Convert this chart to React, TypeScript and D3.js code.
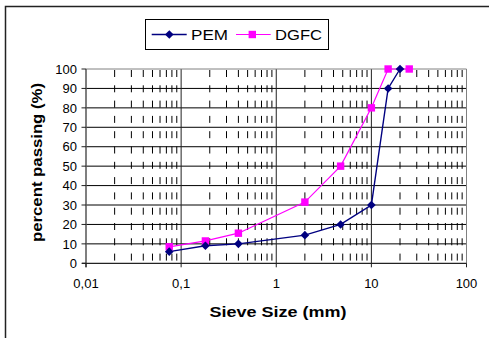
import React from "react";
import * as d3 from "d3";

// Sieve sizes (mm) and percent passing for each gradation
const pemSizes = [0.075, 0.18, 0.4, 2, 4.75, 10, 15, 20];
const pemPassing = [6, 9, 10, 14.5, 20, 30, 90, 100];
const dgfcSizes = [0.075, 0.18, 0.4, 2, 4.75, 10, 15, 25];
const dgfcPassing = [8.5, 11.5, 15.5, 31.5, 50, 80, 100, 100];

const seriesNames = ["PEM", "DGFC"];
const seriesColors = ["#000080", "#FF00FF"];

const xTickValues = [0.01, 0.1, 1, 10, 100];
const xTickLabels = ["0,01", "0,1", "1", "10", "100"];
const yTickValues = [0, 10, 20, 30, 40, 50, 60, 70, 80, 90, 100];

const W = 489;
const H = 338;
const left = 86;
const right = 466.5;
const top = 69;
const bottom = 263.3;

export default function App() {
  const x = d3.scaleLog().domain([0.01, 100]).range([left, right]);
  const y = d3.scaleLinear().domain([0, 100]).range([bottom, top]);

  // minor positions 2..9 within each decade
  const minors: number[] = [];
  for (let d = 0.01; d < 100; d *= 10) {
    for (let k = 2; k <= 9; k++) minors.push(+(d * k).toPrecision(6));
  }

  const pem = pemSizes.map((s, i) => [s, pemPassing[i]] as [number, number]);
  const dgfc = dgfcSizes.map((s, i) => [s, dgfcPassing[i]] as [number, number]);
  const line = d3
    .line<[number, number]>()
    .x((d) => x(d[0]))
    .y((d) => y(d[1]));

  const font = "Arial, 'Liberation Sans', sans-serif";

  const diamond = (cx: number, cy: number, r: number) =>
    `M${cx},${cy - r}L${cx + r},${cy}L${cx},${cy + r}L${cx - r},${cy}Z`;

  return (
    <svg
      width={W}
      height={H}
      style={{ position: "absolute", left: 0, top: 0, background: "#fff" }}
      fontFamily={font}
    >
      <rect x={0} y={0} width={W} height={H} fill="#fff" />
      {/* chart frame */}
      <rect x={5.5} y={6.5} width={520} height={400} fill="none" stroke="#222" strokeWidth={1.5} />

      {/* minor vertical dashed gridlines */}
      {minors.map((m, i) => (
        <line
          key={"mn" + i}
          x1={x(m)}
          x2={x(m)}
          y1={top + 1}
          y2={bottom}
          stroke="#000"
          strokeWidth={1}
          strokeDasharray="7 8.3"
        />
      ))}

      {/* major horizontal gridlines */}
      {yTickValues.slice(1, -1).map((v) => (
        <line key={"hy" + v} x1={left} x2={right} y1={y(v)} y2={y(v)} stroke="#000" strokeWidth={1} />
      ))}
      {/* major vertical gridlines */}
      {xTickValues.slice(1, -1).map((v) => (
        <line key={"vx" + v} x1={x(v)} x2={x(v)} y1={top} y2={bottom} stroke="#222" strokeWidth={1} />
      ))}

      {/* plot border */}
      <line x1={left} x2={right} y1={top} y2={top} stroke="#808080" strokeWidth={1} />
      <line x1={right} x2={right} y1={top} y2={bottom} stroke="#808080" strokeWidth={1} />

      {/* axes */}
      <line x1={left} x2={left} y1={top} y2={bottom + 4} stroke="#555" strokeWidth={1.5} />
      <line x1={left - 4} x2={right} y1={bottom} y2={bottom} stroke="#222" strokeWidth={1.2} />
      {yTickValues.map((v) => (
        <line key={"ty" + v} x1={left - 4.5} x2={left} y1={y(v)} y2={y(v)} stroke="#222" strokeWidth={1} />
      ))}
      {xTickValues.map((v) => (
        <line key={"tx" + v} x1={x(v)} x2={x(v)} y1={bottom} y2={bottom + 4} stroke="#222" strokeWidth={1} />
      ))}

      {/* tick labels */}
      {yTickValues.map((v) => (
        <text key={"ly" + v} x={77} y={y(v)} dy="0.36em" textAnchor="end" fontSize={13} fill="#000">
          {v}
        </text>
      ))}
      {xTickValues.map((v, i) => (
        <text key={"lx" + v} x={x(v)} y={288} textAnchor="middle" fontSize={13} fill="#000">
          {xTickLabels[i]}
        </text>
      ))}

      {/* axis titles */}
      <text
        x={278}
        y={316.5}
        textAnchor="middle"
        fontSize={14}
        fontWeight="bold"
        textLength={137}
        lengthAdjust="spacingAndGlyphs"
      >
        Sieve Size (mm)
      </text>
      <text
        transform={`translate(41.5,162.5) rotate(-90)`}
        textAnchor="middle"
        fontSize={14}
        fontWeight="bold"
        textLength={159}
        lengthAdjust="spacingAndGlyphs"
      >
        percent passing (%)
      </text>

      {/* series */}
      <path d={line(dgfc) || ""} fill="none" stroke={seriesColors[1]} strokeWidth={1.2} />
      <path d={line(pem) || ""} fill="none" stroke={seriesColors[0]} strokeWidth={1.4} />
      {dgfc.map((d, i) => (
        <rect key={"sq" + i} x={x(d[0]) - 3.7} y={y(d[1]) - 3.7} width={7.4} height={7.4} fill={seriesColors[1]} />
      ))}
      {pem.map((d, i) => (
        <path key={"dm" + i} d={diamond(x(d[0]), y(d[1]), 4.3)} fill={seriesColors[0]} />
      ))}

      {/* legend */}
      <rect x={145.5} y={19.5} width={183} height={30} fill="#fff" stroke="#000" strokeWidth={1} />
      <line x1={151.7} x2={186.7} y1={34.5} y2={34.5} stroke={seriesColors[0]} strokeWidth={1.4} />
      <path d={diamond(169.3, 34.5, 4.3)} fill={seriesColors[0]} />
      <text x={191} y={34.5} dy="0.36em" fontSize={15} textLength={37} lengthAdjust="spacingAndGlyphs">
        {seriesNames[0]}
      </text>
      <line x1={236} x2={270.7} y1={34.5} y2={34.5} stroke={seriesColors[1]} strokeWidth={1.2} />
      <rect x={252.3 - 3.7} y={34.5 - 3.7} width={7.4} height={7.4} fill={seriesColors[1]} />
      <text x={275} y={34.5} dy="0.36em" fontSize={15} textLength={47} lengthAdjust="spacingAndGlyphs">
        {seriesNames[1]}
      </text>
    </svg>
  );
}
